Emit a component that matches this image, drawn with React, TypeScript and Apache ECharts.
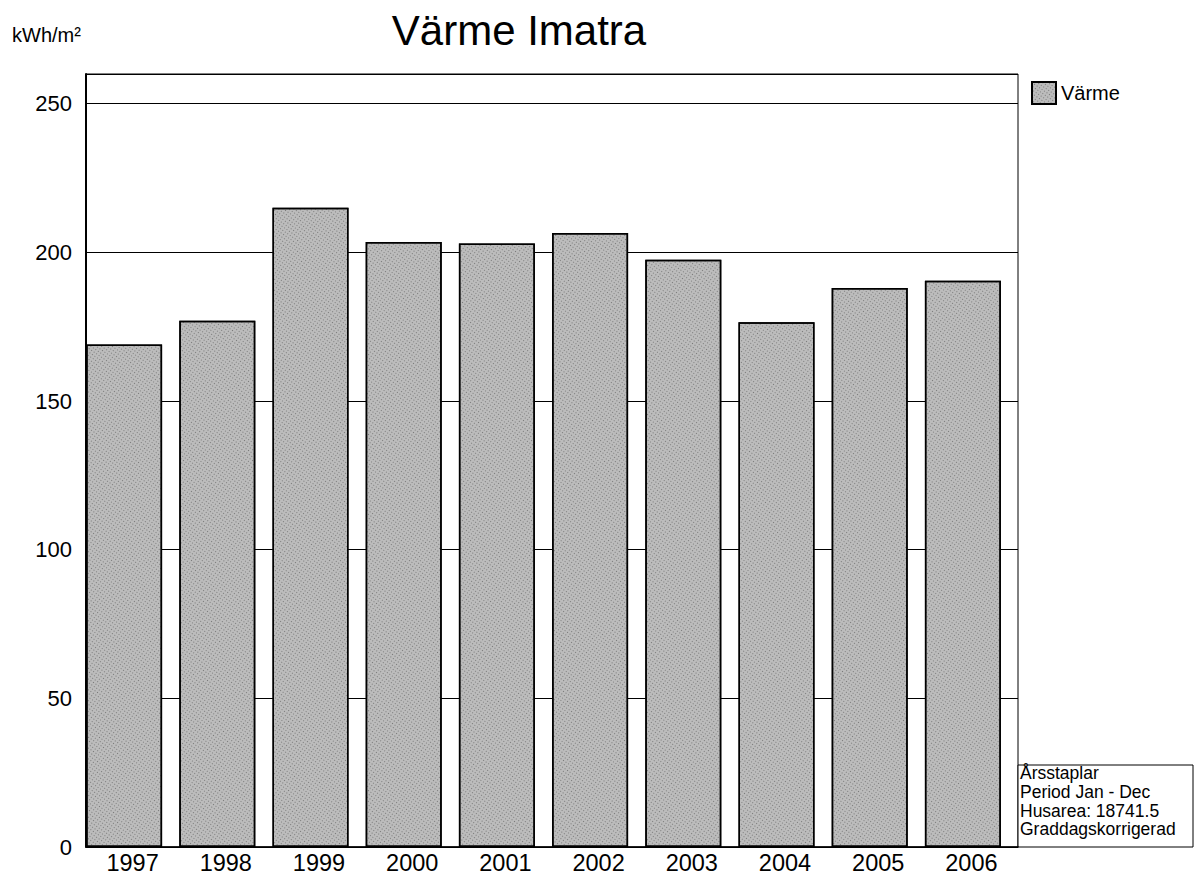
import React, { useEffect, useRef } from "react";
import * as echarts from "echarts";

const years = ["1997", "1998", "1999", "2000", "2001", "2002", "2003", "2004", "2005", "2006"];
const heatValues = [169, 177, 215, 203.5, 203, 206.5, 197.5, 176.5, 188, 190.5];
const spacerValues = [0, 0, 0, 0, 0, 0, 0, 0, 0, 0];
const infoLines = ["Årsstaplar", "Period Jan - Dec", "Husarea: 18741.5", "Graddagskorrigerad"];

const FONT = "'Liberation Sans', Arial, sans-serif";

export default function App() {
  const ref = useRef<HTMLDivElement>(null);
  useEffect(() => {
    document.body.style.margin = "0";
    const chart = echarts.init(ref.current!, null, { renderer: "svg" });
    chart.setOption({
      animation: false,
      backgroundColor: "#fff",
      textStyle: { fontFamily: FONT, color: "#000" },
      grid: {
        left: 86,
        top: 74,
        width: 932,
        height: 773,
        show: true,
        borderColor: "#000",
        borderWidth: 1,
        containLabel: false,
      },
      legend: {
        data: [{ name: "Värme", icon: "rect" }],
        left: 1026,
        top: 76,
        itemWidth: 24,
        itemHeight: 22,
        textStyle: { fontSize: 20, color: "#000", fontFamily: FONT },
      },
      xAxis: {
        type: "category",
        data: years,
        axisLine: { show: true, lineStyle: { color: "#000", width: 1.5 } },
        axisTick: { show: false },
        axisLabel: { fontSize: 23.5, color: "#000", margin: 4, fontFamily: FONT },
      },
      yAxis: {
        type: "value",
        min: 0,
        max: 260,
        interval: 50,
        axisLine: { show: true, lineStyle: { color: "#000", width: 2 } },
        axisTick: { show: true, inside: true, length: 5, lineStyle: { color: "#000" } },
        axisLabel: {
          fontSize: 22,
          color: "#000",
          margin: 14,
          fontFamily: FONT,
          formatter: (v: number) => (v % 50 === 0 ? String(v) : ""),
        },
        splitLine: { show: true, lineStyle: { color: "#000", width: 1 } },
      },
      series: [
        {
          name: "Värme",
          type: "bar",
          data: heatValues,
          barWidth: 76,
          barGap: "0%",
          barCategoryGap: "0%",
          itemStyle: {
            color: "#bcbcbc",
            borderColor: "#000",
            borderWidth: 1.5,
            decal: {
              symbol: "rect",
              symbolSize: 1,
              color: "rgba(40,40,40,0.45)",
              dashArrayX: [1, 2],
              dashArrayY: [1, 2],
              rotation: 0.6,
            },
          },
        },
        {
          name: "spacer",
          type: "bar",
          data: spacerValues,
          barWidth: 17,
          itemStyle: { color: "transparent" },
          silent: true,
        },
      ],
      graphic: [
        {
          type: "text",
          x: 519,
          y: 30,
          style: {
            text: "Värme Imatra",
            fontSize: 42,
            fontFamily: FONT,
            fill: "#000",
            textAlign: "center",
            textVerticalAlign: "middle",
          },
        },
        {
          type: "text",
          x: 12,
          y: 35,
          style: {
            text: "kWh/m²",
            fontSize: 20,
            fontFamily: FONT,
            fill: "#000",
            textAlign: "left",
            textVerticalAlign: "middle",
          },
        },
        {
          type: "rect",
          shape: { x: 1018, y: 765, width: 175, height: 82 },
          style: { fill: "#fff", stroke: "#000", lineWidth: 1 },
        },
        {
          type: "text",
          x: 1020,
          y: 764,
          style: {
            text: infoLines.join("\n"),
            fontSize: 17.5,
            lineHeight: 18.6,
            fontFamily: FONT,
            fill: "#000",
            textAlign: "left",
            textVerticalAlign: "top",
          },
        },
      ],
    });
    return () => chart.dispose();
  }, []);
  return <div ref={ref} style={{ width: 1195, height: 878 }} />;
}
